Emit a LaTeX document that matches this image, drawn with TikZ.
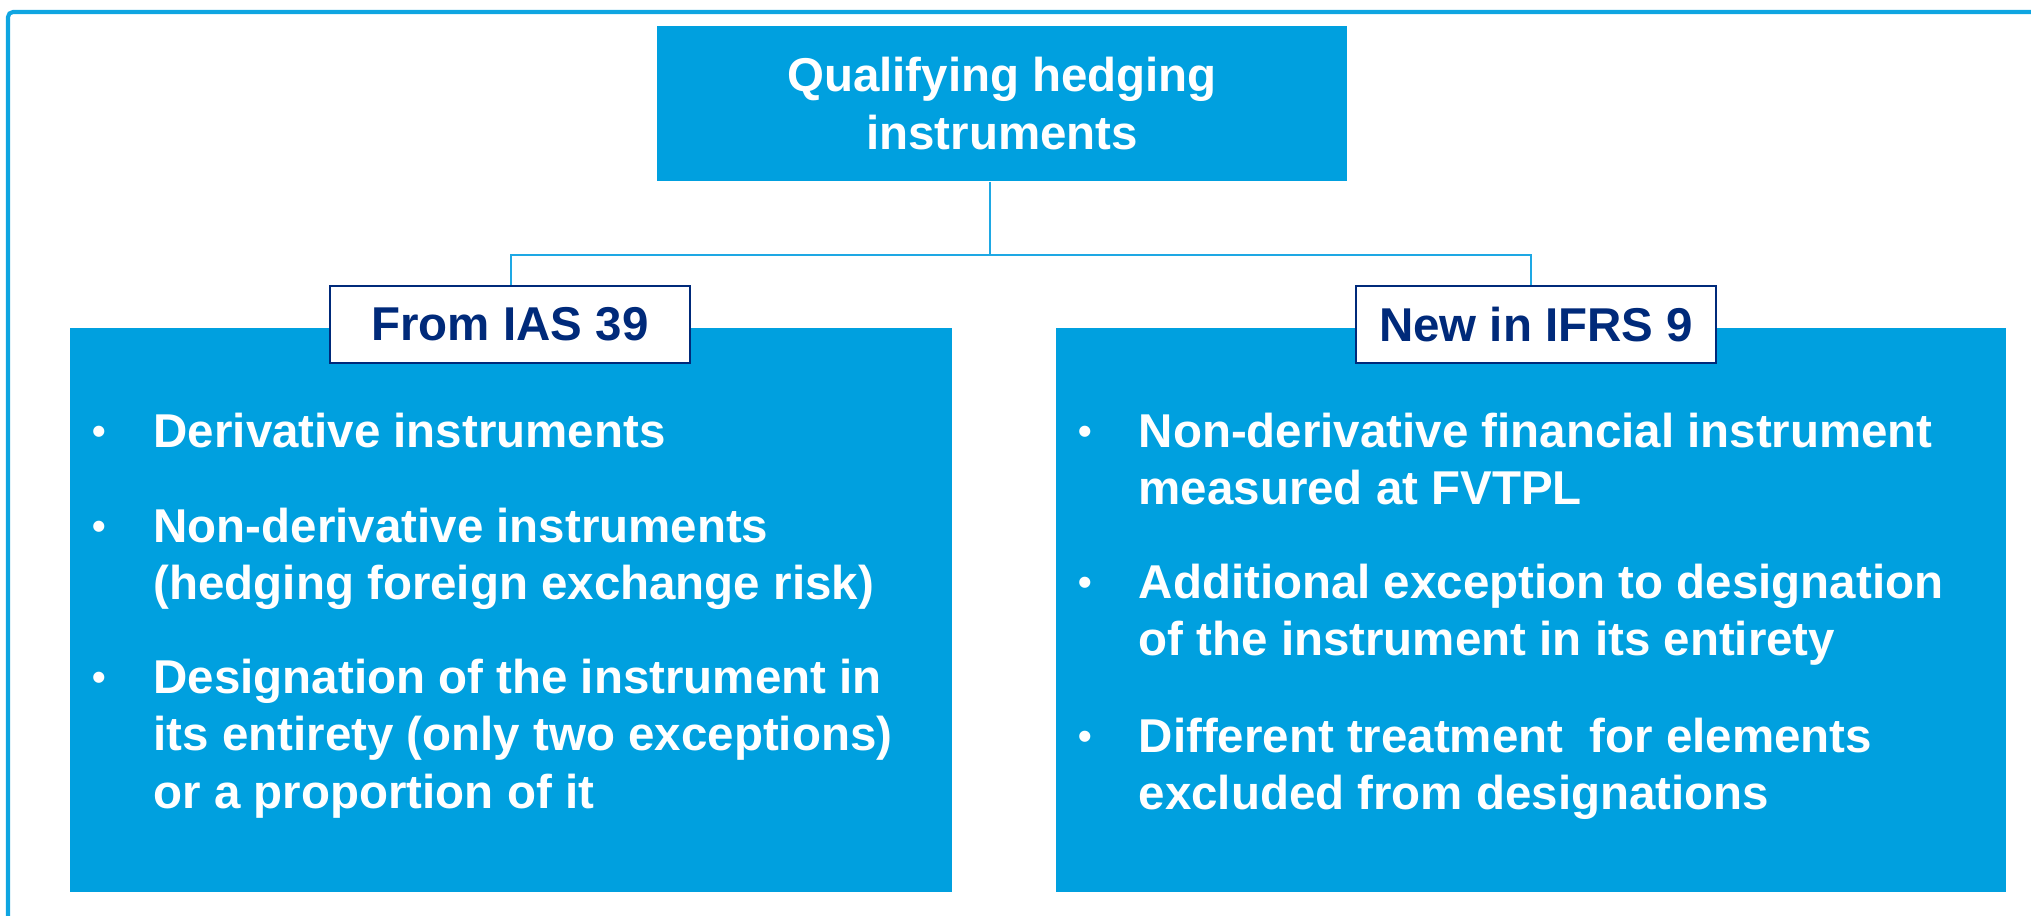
\documentclass[tikz,border=0pt]{standalone}
\usepackage{fontspec}
\setmainfont{Liberation Sans}
\usepackage{tikz}
\usetikzlibrary{positioning}

\newcommand\boxfont{\fontsize{13.5}{16.35}\selectfont\bfseries}

\begin{document}
\begin{tikzpicture}[x=0.01cm, y=-0.01cm, every node/.style={align=center, inner sep=0pt},
    titlebox/.style={fill=qblue, text=white, minimum width=6.9cm, minimum height=1.55cm, font=\boxfont},
    blkbox/.style={fill=qblue, minimum height=5.64cm},
    tagbox/.style={draw=qnavy, line width=0.6pt, fill=white, text=qnavy, minimum width=3.6cm, minimum height=0.77cm, font=\boxfont},
    linkline/.style={draw=qline, line width=0.6pt},
    itemtxt/.style={anchor=north west, align=left, text=white, font=\boxfont},
    bulletdot/.style={anchor=base, text=white, font=\fontsize{11}{13}\selectfont\bfseries}]
      \definecolor{qblue}{RGB}{0,160,223} \definecolor{qnavy}{RGB}{0,42,122}
      \definecolor{qline}{RGB}{30,168,228} \definecolor{qframe}{RGB}{15,165,225}

      \useasboundingbox (0,0) rectangle (2031,915);
      \clip (0,0) rectangle (2031,915);
      \draw[draw=qframe, line width=1.15pt, rounded corners=0.05cm] (8,12) rectangle (2080,960);

      \node[titlebox] (title) at (1002,103.5) {Qualifying hedging\\instruments};
      \node[blkbox, minimum width=8.82cm] (ias) at (511,610) {};
      \node[blkbox, minimum width=9.5cm] (ifrs) at (1531,610) {};
      \node[tagbox] (iaslab) at (510,324.5) {From IAS 39};
      \node[tagbox] (ifrslab) at (1536,324.5) {New in IFRS 9};

      \coordinate (hub) at (990,255);
      \draw[linkline] (title.south -| hub) -- (hub);
      \draw[linkline] (iaslab.north -| ias.north) |- (hub) -| (ifrslab.north -| ifrs.north);

      \foreach \y/\txt [count=\i] in {447/{Derivative instruments},
          542/{Non-derivative instruments\\(hedging foreign exchange risk)},
          693/{Designation of the instrument in\\its entirety (only two exceptions)\\or a proportion of it}} {
        \node[bulletdot] (ias-dot-\i) at (99,\y-3) {•};
        \node[itemtxt] (ias-item-\i) at (153,\y-35) {\txt};
      }
      \foreach \y/\txt [count=\i] in {447/{Non-derivative financial instrument\\measured at FVTPL},
          598/{Additional exception to designation\\of the instrument in its entirety},
          752/{Different treatment~ for elements\\excluded from designations}} {
        \node[bulletdot] (ifrs-dot-\i) at (1085,\y-3) {•};
        \node[itemtxt] (ifrs-item-\i) at (1138,\y-35) {\txt};
      }
    \end{tikzpicture}
\end{document}
